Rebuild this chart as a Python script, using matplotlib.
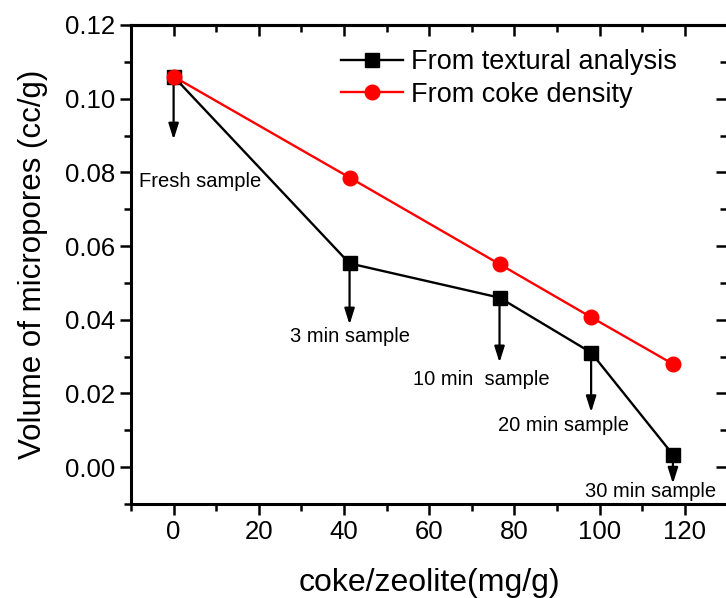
import matplotlib
matplotlib.use("Agg")
import matplotlib.pyplot as plt
from matplotlib.ticker import MultipleLocator

plt.rcParams['font.family'] = ['Liberation Sans', 'DejaVu Sans']

# Data
coke = [0, 41.3, 76.5, 98.0, 117.2]
textural = [0.106, 0.0553, 0.0460, 0.0311, 0.0034]
density = [0.106, 0.0786, 0.0551, 0.0407, 0.0280]

labels = ["Fresh sample", "3 min sample", "10 min  sample", "20 min sample", "30 min sample"]
arrow_x = [0, 41.3, 76.5, 98.0, 117.2]
arrow_start = [0.106, 0.0553, 0.0460, 0.0311, 0.0034]
arrow_end = [0.0889, 0.0387, 0.0284, 0.0149, -0.0045]
label_x = [6.3, 41.3, 72.2, 91.6, 112.0]
label_y = [0.0776, 0.0354, 0.0237, 0.0113, -0.0066]

fig = plt.figure(figsize=(7.26, 5.98), dpi=100)
ax = fig.add_axes([131/726, 1-504/598, 1.002-131/726, (504-25)/598])

ax.plot(coke, textural, color='black', lw=1.7, marker='s', ms=9.5,
        label='From textural analysis', zorder=3)
ax.plot(coke, density, color='red', lw=1.7, marker='o', ms=10.5,
        label='From coke density', zorder=3)

for xa, y0, y1 in zip(arrow_x, arrow_start, arrow_end):
    ax.annotate('', xy=(xa, y1), xytext=(xa, y0),
                arrowprops=dict(arrowstyle='-|>,head_length=0.95,head_width=0.3',
                                color='black', lw=1.6, shrinkA=0, shrinkB=0),
                zorder=2)
for lx, ly, t in zip(label_x, label_y, labels):
    ax.text(lx, ly, t, fontsize=14.5, ha='center', va='center')

ax.set_xlim(-10, 130)
ax.set_ylim(-0.01, 0.12)
ax.xaxis.set_major_locator(MultipleLocator(20))
ax.xaxis.set_minor_locator(MultipleLocator(10))
ax.yaxis.set_major_locator(MultipleLocator(0.02))
ax.yaxis.set_minor_locator(MultipleLocator(0.01))
ax.yaxis.set_major_formatter(matplotlib.ticker.FormatStrFormatter('%.2f'))

for s in ax.spines.values():
    s.set_linewidth(2.2)

ax.tick_params(axis='both', which='major', labelsize=18.5, width=1.8, length=8)
ax.tick_params(axis='both', which='minor', width=1.8, length=5)
ax.tick_params(axis='x', which='both', direction='out', top=False)
ax.tick_params(axis='y', which='both', direction='out', right=False)

# inward ticks on top and right via secondary axes
axt = ax.secondary_xaxis('top')
axt.xaxis.set_major_locator(MultipleLocator(20))
axt.xaxis.set_minor_locator(MultipleLocator(10))
axt.tick_params(which='both', direction='in', labeltop=False, width=1.8)
axt.tick_params(which='major', length=8)
axt.tick_params(which='minor', length=5)
axt.spines['top'].set_linewidth(2.2)
axr = ax.secondary_yaxis('right')
axr.yaxis.set_major_locator(MultipleLocator(0.02))
axr.yaxis.set_minor_locator(MultipleLocator(0.01))
axr.tick_params(which='both', direction='in', labelright=False, width=1.8)
axr.tick_params(which='major', length=8)
axr.tick_params(which='minor', length=5)
axr.spines['right'].set_linewidth(2.2)

ax.set_xlabel('coke/zeolite(mg/g)', fontsize=23, labelpad=17)
ax.set_ylabel('Volume of micropores (cc/g)', fontsize=22.5, labelpad=12)

leg = ax.legend(loc='upper left', bbox_to_anchor=(341/726, 1-49/598),
                bbox_transform=fig.transFigure, frameon=False, fontsize=19.5,
                handlelength=2.3, handletextpad=0.3, labelspacing=0.25,
                borderpad=0, borderaxespad=0, numpoints=1)

fig.savefig('out.png', dpi=100)
